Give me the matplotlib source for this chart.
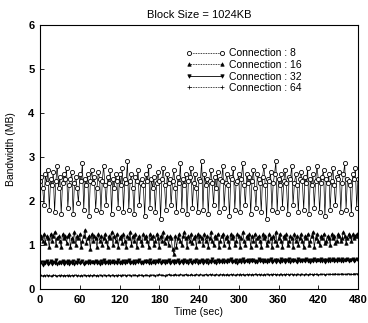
import numpy as np
import matplotlib
matplotlib.use("Agg")
import matplotlib.pyplot as plt

plt.rcParams['font.family'] = ['Liberation Sans', 'DejaVu Sans']

time_step = 2  # seconds between samples
x_ticks = [0, 60, 120, 180, 240, 300, 360, 420, 480]
y_ticks = [0, 1, 2, 3, 4, 5, 6]
labels = ["Connection : 8", "Connection : 16", "Connection : 32", "Connection : 64"]

conn8 = [
    2.45, 2.55, 2.3, 1.9, 2.6, 2.4, 2.7, 1.8, 2.5, 2.35, 2.65, 1.75, 2.45, 2.8, 2.3, 2.55, 1.7, 2.4, 2.6, 2.5,
    2.75, 1.85, 2.35, 2.5, 2.65, 1.7, 2.4, 2.55, 2.3, 1.95, 2.6, 2.45, 2.85, 1.8, 2.5, 2.35, 2.6, 1.65, 2.45, 2.7,
    2.4, 2.55, 1.8, 2.3, 2.65, 2.5, 1.75, 2.45, 2.8, 2.35, 1.9, 2.55, 2.4, 2.7, 1.7, 2.5, 2.3, 2.6, 2.45, 1.85,
    2.6, 2.35, 2.75, 1.75, 2.5, 2.4, 2.9, 1.8, 2.45, 2.6, 2.3, 1.7, 2.55, 2.45, 2.7, 1.9, 2.4, 2.5, 2.35, 1.65,
    2.6, 2.45, 2.8, 1.85, 2.5, 2.3, 2.55, 1.75, 2.4, 2.65, 2.45, 1.6, 2.5, 2.75, 2.35, 1.8, 2.6, 2.4, 2.5, 1.9,
    2.45, 2.7, 2.3, 1.75, 2.55, 2.4, 2.85, 1.8, 2.5, 2.35, 2.6, 1.7, 2.45, 2.55, 2.75, 1.85, 2.4, 2.6, 2.3, 1.75,
    2.5, 2.45, 2.9, 1.8, 2.6, 2.35, 2.5, 1.7, 2.45, 2.7, 2.4, 1.9, 2.55, 2.3, 2.65, 1.75, 2.5, 2.45, 2.8, 1.85,
    2.4, 2.6, 2.35, 1.65, 2.55, 2.5, 2.75, 1.8, 2.4, 2.45, 2.6, 1.75, 2.5, 2.85, 2.35, 1.9, 2.6, 2.4, 2.55, 1.7,
    2.45, 2.7, 2.3, 1.85, 2.6, 2.5, 2.4, 1.75, 2.55, 2.8, 2.35, 1.6, 2.5, 2.45, 2.65, 1.8, 2.4, 2.6, 2.9, 1.75,
    2.5, 2.35, 2.6, 1.85, 2.45, 2.7, 2.4, 1.7, 2.55, 2.5, 2.8, 1.9, 2.4, 2.6, 2.35, 1.75, 2.5, 2.65, 2.45, 1.8,
    2.55, 2.4, 2.75, 1.7, 2.5, 2.35, 2.6, 1.85, 2.45, 2.8, 2.5, 1.75, 2.4, 2.55, 2.7, 1.65, 2.5, 2.4, 2.6, 1.8,
    2.45, 2.75, 2.35, 1.9, 2.55, 2.5, 2.65, 1.75, 2.4, 2.6, 2.85, 1.8, 2.5, 2.45, 2.35, 1.7, 2.6, 2.5, 2.75, 1.85,
    2.5,
]
conn16 = [
    1.15, 1.2, 1.1, 1.25, 1.05, 1.2, 1.15, 0.95, 1.25, 1.1, 1.2, 1.3, 1.0, 1.15, 1.2, 1.1, 0.95, 1.25, 1.15, 1.2,
    1.05, 1.2, 1.25, 0.95, 1.15, 1.1, 1.3, 1.0, 1.2, 1.15, 1.25, 0.95, 1.1, 1.2, 1.35, 1.05, 1.15, 1.2, 0.9, 1.25,
    1.1, 1.2, 1.15, 0.95, 1.25, 1.1, 1.2, 1.0, 1.15, 1.25, 1.1, 0.95, 1.2, 1.15, 1.3, 1.0, 1.2, 1.1, 1.25, 0.95,
    1.15, 1.2, 1.05, 1.25, 1.1, 0.95, 1.2, 1.15, 1.3, 1.0, 1.2, 1.1, 1.25, 0.95, 1.15, 1.2, 1.1, 1.0, 1.25, 1.15,
    1.2, 1.1, 0.95, 1.25, 1.15, 1.2, 1.0, 1.1, 1.25, 1.15, 0.95, 1.2, 1.1, 1.3, 1.05, 1.15, 1.2, 1.0, 1.2, 1.15,
    0.9, 0.8, 1.2, 0.95, 1.15, 1.25, 1.1, 1.0, 1.2, 1.3, 1.15, 0.95, 1.2, 1.1, 1.25, 1.05, 1.15, 1.2, 0.95, 1.25,
    1.1, 1.2, 1.15, 1.0, 1.25, 1.1, 1.2, 0.95, 1.15, 1.3, 1.1, 1.0, 1.2, 1.15, 1.25, 0.95, 1.1, 1.2, 1.25, 1.0,
    1.15, 1.2, 1.1, 0.95, 1.25, 1.15, 1.2, 1.0, 1.1, 1.25, 1.2, 0.95, 1.15, 1.3, 1.1, 1.0, 1.2, 1.15, 1.25, 0.95,
    1.2, 1.1, 1.25, 1.0, 1.15, 1.2, 1.1, 0.95, 1.25, 1.15, 1.2, 1.0, 1.1, 1.25, 1.15, 0.95, 1.2, 1.1, 1.3, 1.0,
    1.15, 1.25, 1.1, 0.95, 1.2, 1.15, 1.25, 1.0, 1.1, 1.2, 1.15, 0.95, 1.25, 1.1, 1.2, 1.0, 1.15, 1.25, 1.1, 0.95,
    1.2, 1.15, 1.25, 1.0, 1.1, 1.2, 1.3, 0.95, 1.15, 1.25, 1.1, 1.0, 1.2, 1.15, 1.25, 1.05, 1.1, 1.2, 1.15, 1.0,
    1.25, 1.15, 1.2, 1.05, 1.1, 1.25, 1.2, 1.1, 1.15, 1.3, 1.2, 1.05, 1.15, 1.25, 1.2, 1.1, 1.25, 1.15, 1.2, 1.25,
    1.2,
]
conn32 = [
    0.58, 0.62, 0.55, 0.61, 0.6, 0.64, 0.56, 0.6, 0.63, 0.57, 0.61, 0.59, 0.65, 0.56, 0.6, 0.62, 0.58, 0.63, 0.57, 0.61,
    0.6, 0.64, 0.56, 0.61, 0.59, 0.63, 0.57, 0.62, 0.6, 0.65, 0.58, 0.61, 0.63, 0.57, 0.6, 0.62, 0.59, 0.64, 0.58, 0.61,
    0.62, 0.58, 0.64, 0.6, 0.61, 0.57, 0.63, 0.6, 0.65, 0.58, 0.62, 0.6, 0.64, 0.59, 0.61, 0.63, 0.58, 0.62, 0.6, 0.66,
    0.59, 0.62, 0.6, 0.64, 0.58, 0.63, 0.61, 0.65, 0.59, 0.62, 0.6, 0.64, 0.58, 0.63, 0.61, 0.66, 0.6, 0.62, 0.59, 0.64,
    0.61, 0.63, 0.59, 0.65, 0.6, 0.62, 0.64, 0.58, 0.63, 0.61, 0.66, 0.6, 0.62, 0.64, 0.59, 0.63, 0.61, 0.65, 0.6, 0.62,
    0.64, 0.6, 0.63, 0.61, 0.66, 0.59, 0.62, 0.64, 0.6, 0.65, 0.61, 0.63, 0.59, 0.66, 0.62, 0.6, 0.64, 0.61, 0.65, 0.6,
    0.63, 0.61, 0.66, 0.6, 0.64, 0.62, 0.65, 0.6, 0.63, 0.61, 0.67, 0.62, 0.64, 0.6, 0.65, 0.62, 0.63, 0.61, 0.66, 0.62,
    0.64, 0.61, 0.65, 0.63, 0.67, 0.61, 0.64, 0.62, 0.66, 0.6, 0.63, 0.65, 0.62, 0.67, 0.61, 0.64, 0.63, 0.66, 0.61, 0.65,
    0.63, 0.66, 0.62, 0.64, 0.61, 0.67, 0.63, 0.65, 0.62, 0.66, 0.64, 0.61, 0.65, 0.63, 0.68, 0.62, 0.64, 0.66, 0.62, 0.65,
    0.64, 0.62, 0.67, 0.63, 0.65, 0.62, 0.66, 0.64, 0.68, 0.62, 0.65, 0.63, 0.66, 0.64, 0.62, 0.67, 0.63, 0.65, 0.64, 0.66,
    0.63, 0.67, 0.64, 0.65, 0.62, 0.66, 0.64, 0.68, 0.63, 0.65, 0.66, 0.63, 0.67, 0.64, 0.65, 0.62, 0.66, 0.64, 0.68, 0.63,
    0.65, 0.67, 0.64, 0.66, 0.63, 0.68, 0.65, 0.64, 0.67, 0.63, 0.66, 0.65, 0.68, 0.64, 0.66, 0.65, 0.67, 0.64, 0.66, 0.68,
    0.66,
]
conn64 = [
    0.3, 0.31, 0.29, 0.31, 0.3, 0.32, 0.3, 0.31, 0.29, 0.3, 0.32, 0.31, 0.3, 0.29, 0.31, 0.3, 0.32, 0.3, 0.31, 0.3,
    0.31, 0.3, 0.32, 0.29, 0.31, 0.3, 0.31, 0.32, 0.3, 0.31, 0.29, 0.31, 0.3, 0.32, 0.31, 0.3, 0.31, 0.29, 0.32, 0.3,
    0.31, 0.32, 0.3, 0.31, 0.3, 0.32, 0.31, 0.3, 0.32, 0.31, 0.3, 0.31, 0.32, 0.3, 0.31, 0.32, 0.3, 0.31, 0.3, 0.32,
    0.31, 0.3, 0.32, 0.31, 0.32, 0.3, 0.31, 0.32, 0.31, 0.3, 0.32, 0.31, 0.32, 0.3, 0.31, 0.32, 0.31, 0.32, 0.3, 0.31,
    0.32, 0.31, 0.3, 0.32, 0.31, 0.32, 0.31, 0.3, 0.32, 0.31, 0.33, 0.31, 0.32, 0.31, 0.3, 0.32, 0.31, 0.33, 0.31, 0.32,
    0.31, 0.32, 0.33, 0.31, 0.32, 0.31, 0.33, 0.32, 0.31, 0.32, 0.33, 0.31, 0.32, 0.31, 0.33, 0.32, 0.31, 0.32, 0.33, 0.32,
    0.31, 0.33, 0.32, 0.31, 0.32, 0.33, 0.32, 0.31, 0.33, 0.32, 0.33, 0.31, 0.32, 0.33, 0.32, 0.31, 0.33, 0.32, 0.33, 0.32,
    0.32, 0.33, 0.31, 0.32, 0.33, 0.32, 0.33, 0.31, 0.32, 0.33, 0.32, 0.34, 0.32, 0.33, 0.31, 0.32, 0.33, 0.32, 0.33, 0.32,
    0.33, 0.32, 0.33, 0.34, 0.32, 0.33, 0.32, 0.33, 0.31, 0.33, 0.32, 0.34, 0.33, 0.32, 0.33, 0.32, 0.34, 0.33, 0.32, 0.33,
    0.32, 0.33, 0.34, 0.32, 0.33, 0.32, 0.34, 0.33, 0.32, 0.33, 0.34, 0.32, 0.33, 0.32, 0.34, 0.33, 0.32, 0.34, 0.33, 0.32,
    0.33, 0.34, 0.32, 0.33, 0.34, 0.33, 0.32, 0.34, 0.33, 0.34, 0.32, 0.33, 0.34, 0.33, 0.34, 0.32, 0.33, 0.34, 0.33, 0.34,
    0.33, 0.34, 0.33, 0.35, 0.33, 0.34, 0.33, 0.34, 0.35, 0.33, 0.34, 0.33, 0.34, 0.35, 0.33, 0.34, 0.33, 0.35, 0.34, 0.35,
    0.34,
]

t = np.arange(len(conn8)) * time_step

fig = plt.figure(figsize=(3.68, 3.23), dpi=100)
ax = fig.add_axes([40/368, 1-289/323, (358-40)/368, (289-24.7)/323])

ax.plot(t, conn8, color='black', lw=0.5, ls='-', marker='o', ms=3.0,
        mfc='white', mec='black', mew=0.6, label=labels[0])
ax.plot(t, conn16, color='black', lw=0.5, ls='-', marker='^', ms=2.5,
        mfc='black', mec='black', mew=0.5, label=labels[1])
ax.plot(t, conn32, color='black', lw=0.6, ls='-', marker='v', ms=2.3,
        mfc='black', mec='black', mew=0.5, label=labels[2])
ax.plot(t, conn64, color='black', lw=0.6, ls='-', marker='+', ms=2.0,
        mec='black', mew=0.5, label=labels[3])

ax.set_xlim(0, 480)
ax.set_ylim(0, 6)
ax.set_xticks(x_ticks)
ax.set_yticks(y_ticks)
ax.tick_params(direction='in', length=3, width=0.6, labelsize=8, pad=4)
for lab in ax.get_xticklabels() + ax.get_yticklabels():
    lab.set_fontweight('bold')
for s in ax.spines.values():
    s.set_linewidth(0.8)

ax.set_title("Block Size = 1024KB", fontsize=8, pad=5)
ax.set_xlabel("Time (sec)", fontsize=7.5, labelpad=2)
ax.set_ylabel("Bandwidth (MB)", fontsize=7.5, labelpad=6)
ax.yaxis.set_label_coords(-0.075, 0.53)

# legend handles styled like the reference key (dotted / solid connectors)
from matplotlib.lines import Line2D
handles = [
    Line2D([], [], color='black', lw=0.6, ls=(0, (1, 1)), marker='o', ms=3.0, mfc='white', mew=0.6),
    Line2D([], [], color='black', lw=0.6, ls=(0, (1, 1)), marker='^', ms=2.5, mew=0.5),
    Line2D([], [], color='black', lw=0.6, ls='-', marker='v', ms=2.5, mew=0.5),
    Line2D([], [], color='black', lw=0.6, ls=(0, (1, 1)), marker='+', ms=2.5, mew=0.5),
]
ax.legend(handles, labels, loc='upper right', bbox_to_anchor=(0.84, 0.93), frameon=False,
          fontsize=7.5, numpoints=2, handlelength=3.8, handletextpad=0.4,
          labelspacing=0.15, borderpad=0)

fig.savefig("out.png", dpi=100)
